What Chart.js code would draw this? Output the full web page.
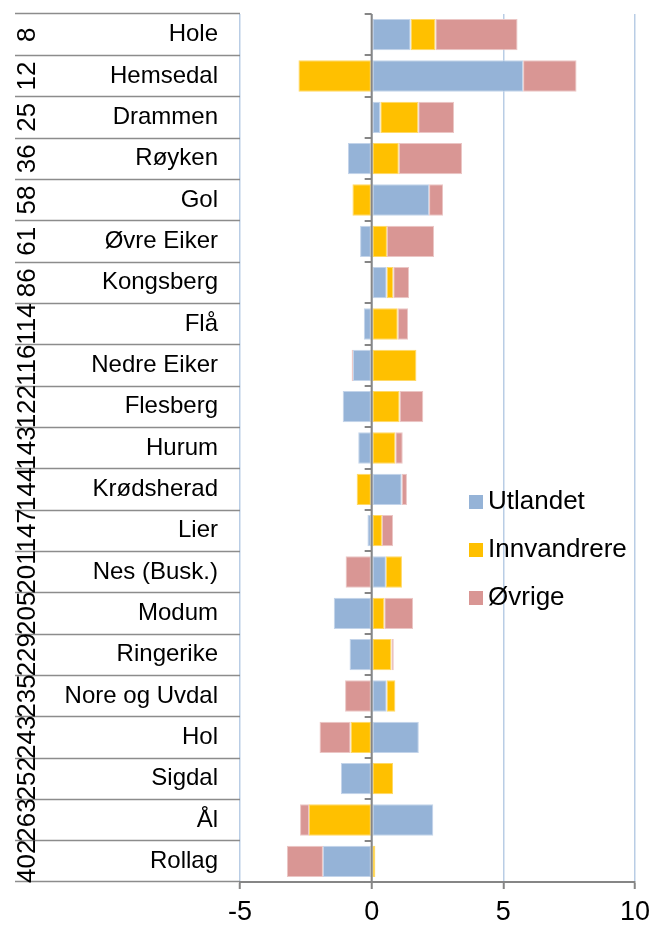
<!DOCTYPE html>
<html>
<head>
<meta charset="utf-8">
<script src="https://cdn.jsdelivr.net/npm/chart.js@4"></script>
<style>
  html, body { margin: 0; padding: 0; background: #fff; }
  #wrap { width: 652px; height: 925px; }
</style>
</head>
<body>
<div id="wrap"><canvas id="c" width="652" height="925"></canvas></div>
<script>
// Kommuner med rangering og bidrag fordelt på kilde
const municipalities = ['Hole', 'Hemsedal', 'Drammen', 'Røyken', 'Gol', 'Øvre Eiker', 'Kongsberg', 'Flå',
  'Nedre Eiker', 'Flesberg', 'Hurum', 'Krødsherad', 'Lier', 'Nes (Busk.)', 'Modum', 'Ringerike',
  'Nore og Uvdal', 'Hol', 'Sigdal', 'Ål', 'Rollag'];
const ranks = ['8', '12', '25', '36', '58', '61', '86', '114', '116', '122', '143', '144', '147',
  '201', '205', '229', '235', '243', '252', '263', '402'];
const utlandet = [1.48, 5.75, 0.33, -0.90, 2.18, -0.44, 0.57, -0.30, -0.71, -1.10, -0.51, 1.14, -0.16,
  0.54, -1.44, -0.84, 0.57, 1.79, -1.17, 2.34, -1.85];
const innvandrere = [0.94, -2.78, 1.44, 1.03, -0.73, 0.58, 0.25, 0.99, 1.70, 1.06, 0.90, -0.57, 0.39,
  0.61, 0.48, 0.75, 0.33, -0.80, 0.81, -2.38, 0.14];
const ovrige = [3.12, 2.03, 1.36, 2.40, 0.53, 1.79, 0.60, 0.39, -0.05, 0.90, 0.28, 0.20, 0.42,
  -0.99, 1.09, 0.09, -1.01, -1.18, 0.00, -0.34, -1.37];
const xTicks = [-5, 0, 5, 10];

const FONT = "'Liberation Sans', Arial, sans-serif";
const AXIS_GRAY = '#868686';
const SEP_GRAY = '#8C8C8C';
const GRID_BLUE = '#B9CDE5';

// Legend placed inside the plot, to the right of the bars
const legendLayout = { x: 469, y: 502, step: 48, box: 14, gap: 5, size: 26 };

const zeroAxis = {
  id: 'zeroAxis',
  afterDatasetsDraw(chart) {
    const { ctx, chartArea, scales: { x, y } } = chart;
    const x0 = x.getPixelForValue(0);
    ctx.save();
    ctx.strokeStyle = AXIS_GRAY;
    ctx.lineWidth = 2;
    ctx.beginPath();
    ctx.moveTo(x0, chartArea.top);
    ctx.lineTo(x0, chartArea.bottom);
    const n = chart.data.labels.length;
    const half = (y.getPixelForValue(1) - y.getPixelForValue(0)) / 2;
    for (let i = 0; i <= n; i++) {
      const py = Math.round(y.getPixelForValue(i) - half);
      ctx.moveTo(x0 - 7, py);
      ctx.lineTo(x0, py);
    }
    ctx.stroke();
    ctx.restore();
  }
};

const rankLabels = {
  id: 'rankLabels',
  afterDraw(chart) {
    const { ctx, scales: { y } } = chart;
    ctx.save();
    ctx.fillStyle = '#000';
    ctx.font = '26px ' + FONT;
    ctx.textAlign = 'center';
    ctx.textBaseline = 'alphabetic';
    ranks.forEach((r, i) => {
      ctx.save();
      ctx.translate(35, y.getPixelForValue(i));
      ctx.rotate(-Math.PI / 2);
      ctx.fillText(r, 0, 0);
      ctx.restore();
    });
    ctx.restore();
  }
};

const sideLegend = {
  id: 'sideLegend',
  afterDraw(chart) {
    const { ctx } = chart;
    const L = legendLayout;
    ctx.save();
    ctx.font = L.size + 'px ' + FONT;
    ctx.textBaseline = 'middle';
    ctx.textAlign = 'left';
    chart.data.datasets.forEach((ds, i) => {
      const cy = L.y + i * L.step;
      ctx.fillStyle = ds.backgroundColor;
      ctx.fillRect(L.x, cy - L.box / 2, L.box, L.box);
      ctx.fillStyle = '#000';
      ctx.fillText(ds.label, L.x + L.box + L.gap, cy);
    });
    ctx.restore();
  }
};

new Chart(document.getElementById('c'), {
  type: 'bar',
  data: {
    labels: municipalities,
    datasets: [
      { label: 'Utlandet', data: utlandet, backgroundColor: '#95B3D7', borderColor: '#C3D4EA' },
      { label: 'Innvandrere', data: innvandrere, backgroundColor: '#FFC000', borderColor: '#FFD966' },
      { label: 'Øvrige', data: ovrige, backgroundColor: '#D99694', borderColor: '#EBC6C5' }
    ]
  },
  options: {
    indexAxis: 'y',
    responsive: false,
    devicePixelRatio: 1,
    animation: false,
    layout: { padding: { left: 15, top: 14, right: 17, bottom: 0 } },
    datasets: {
      bar: { barPercentage: 0.76, categoryPercentage: 1.0, borderWidth: 1, borderSkipped: false }
    },
    plugins: {
      legend: { display: false },
      tooltip: { enabled: false }
    },
    scales: {
      x: {
        type: 'linear',
        stacked: true,
        min: -5,
        max: 10,
        afterBuildTicks: (s) => { s.ticks = xTicks.map(v => ({ value: v })); },
        afterFit: (s) => { s.height = 43; s.paddingLeft = 0; s.paddingRight = 0; },
        ticks: { font: { family: FONT, size: 27 }, color: '#000', padding: 7 },
        grid: { color: GRID_BLUE, lineWidth: 1.5, tickColor: AXIS_GRAY, tickLength: 7, tickWidth: 2 },
        border: { color: AXIS_GRAY, width: 2 }
      },
      y: {
        type: 'category',
        stacked: true,
        offset: true,
        afterFit: (s) => { s.width = 225; },
        ticks: { font: { family: FONT, size: 24 }, color: '#000', padding: -203, autoSkip: false },
        grid: { offset: true, drawOnChartArea: false, drawTicks: true, tickLength: 225, tickColor: SEP_GRAY, tickWidth: 1.5 },
        border: { display: false }
      }
    }
  },
  plugins: [zeroAxis, rankLabels, sideLegend]
});
</script>
</body>
</html>
